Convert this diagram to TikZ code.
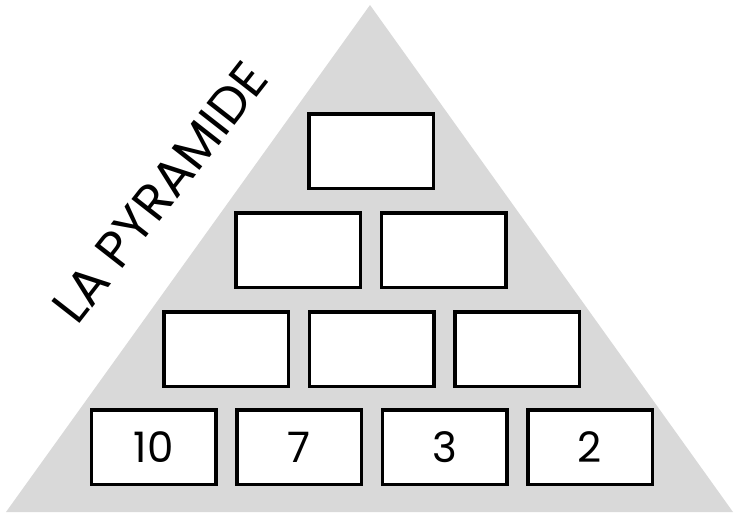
\documentclass[tikz,border=0pt]{standalone}
\usepackage{fontspec}
\setmainfont{Poppins}
\definecolor{pyrgray}{HTML}{D9D9D9}
\begin{document}
\begin{tikzpicture}
  [x=1pt,y=-1pt,
   brick/.style={draw,line width=3.5pt,fill=white,minimum width=124.5pt,minimum height=74.5pt,inner sep=0pt,font=\fontsize{42}{42}\selectfont},
   title/.style={font=\fontsize{51}{51}\selectfont,rotate=52}]
  \useasboundingbox (0,0) rectangle (734,515);
  % the pyramid
  \coordinate (apex) at (370,5);
  \coordinate (baseL) at (6,512);
  \coordinate (baseR) at (733,512);
  \fill[pyrgray] (baseL) -- (apex) -- (baseR) -- cycle;
  % bottom row with the given numbers
  \foreach \val [count=\i] in {10,7,3,2}
    \node[brick] (b4\i) at ({8+145.5*\i},447) {\val};
  % empty rows above
  \foreach \i in {1,2,3}
    \node[brick] (b3\i) at ({80.5+145.5*\i},349) {};
  \foreach \i in {1,2}
    \node[brick] (b2\i) at ({152.5+145.5*\i},250) {};
  \node[brick] (b11) at (371,151) {};
  \node[title] (name) at (160,192) {LA PYRAMIDE};
\end{tikzpicture}
\end{document}
